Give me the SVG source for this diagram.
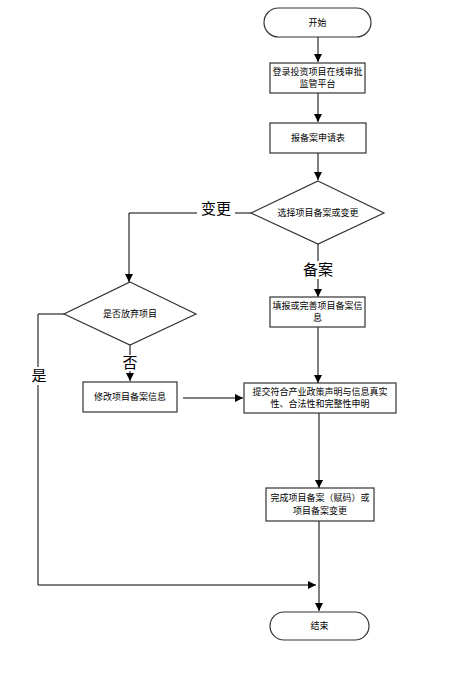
<svg xmlns="http://www.w3.org/2000/svg" width="461" height="673" viewBox="0 0 461 673">
<defs>
<marker id="arr" markerWidth="8" markerHeight="8" refX="8" refY="4" orient="auto" markerUnits="userSpaceOnUse">
<path d="M0,0 L8,4 L0,8 Z" fill="#000"/>
</marker>
<style>
.box{fill:#fff;stroke:#333;stroke-width:1.2}
.t{font-family:"Liberation Sans","Noto Sans CJK SC",sans-serif;font-size:9px;fill:#000;text-anchor:middle}
.lbl{font-family:"Liberation Sans","Noto Sans CJK SC",sans-serif;font-size:15px;fill:#000;text-anchor:middle}
.c{fill:none;stroke:#000;stroke-width:1}
</style>
</defs>
<rect width="461" height="673" fill="#fff"/>
<g id="connectors">
<path class="c" d="M318,37 V62" marker-end="url(#arr)"/>
<path class="c" d="M318,93 V122" marker-end="url(#arr)"/>
<path class="c" d="M318,153 V180" marker-end="url(#arr)"/>
<path class="c" d="M251,213 H129 V282" marker-end="url(#arr)"/>
<path class="c" d="M318,244 V297" marker-end="url(#arr)"/>
<path class="c" d="M318,327 V383" marker-end="url(#arr)"/>
<path class="c" d="M130,345 V381" marker-end="url(#arr)"/>
<path class="c" d="M183,398 H243" marker-end="url(#arr)"/>
<path class="c" d="M319,413 V488" marker-end="url(#arr)"/>
<path class="c" d="M319,521 V611" marker-end="url(#arr)"/>
<path class="c" d="M64,314 H38 V585 H316" marker-end="url(#arr)"/>
<rect x="197" y="200" width="38" height="18" fill="#fff"/>
<text class="lbl" x="216" y="214">变更</text>
<rect x="300" y="261" width="36" height="18" fill="#fff"/>
<text class="lbl" x="318" y="275">备案</text>
<rect x="31" y="367" width="16" height="18" fill="#fff"/>
<text class="lbl" x="39" y="381">是</text>
<rect x="122" y="355" width="16" height="16" fill="#fff"/>
<text class="lbl" x="130" y="368">否</text>
</g>
<g id="start">
<rect class="box" x="264" y="8" width="107" height="29" rx="14.5"/>
<text class="t" x="317.5" y="25.5">开始</text>
</g>
<g id="login">
<rect class="box" x="270" y="63" width="95" height="30"/>
<text class="t" x="317.5" y="75">登录投资项目在线审批</text>
<text class="t" x="317.5" y="87">监管平台</text>
</g>
<g id="apply">
<rect class="box" x="270" y="123" width="96" height="30"/>
<text class="t" x="318" y="141">报备案申请表</text>
</g>
<g id="choose">
<path class="box" d="M318,181 L384,213 L318,244 L251,213 Z"/>
<text class="t" x="318" y="216">选择项目备案或变更</text>
</g>
<g id="abandon">
<path class="box" d="M130,282 L196,314 L130,345 L64,314 Z"/>
<text class="t" x="130" y="317">是否放弃项目</text>
</g>
<g id="fill">
<rect class="box" x="270" y="297" width="95" height="30"/>
<text class="t" x="317.5" y="309">填报或完善项目备案信</text>
<text class="t" x="317.5" y="321">息</text>
</g>
<g id="modify">
<rect class="box" x="83" y="382" width="94" height="30"/>
<text class="t" x="130" y="400">修改项目备案信息</text>
</g>
<g id="submit">
<rect class="box" x="244" y="383" width="152" height="30"/>
<text class="t" x="320" y="395">提交符合产业政策声明与信息真实</text>
<text class="t" x="320" y="407">性、合法性和完整性申明</text>
</g>
<g id="complete">
<rect class="box" x="266" y="488" width="108" height="33"/>
<text class="t" x="320" y="501">完成项目备案（赋码）或</text>
<text class="t" x="320" y="514">项目备案变更</text>
</g>
<g id="end">
<rect class="box" x="270" y="612" width="99" height="28" rx="14"/>
<text class="t" x="319.5" y="629">结束</text>
</g>
</svg>
